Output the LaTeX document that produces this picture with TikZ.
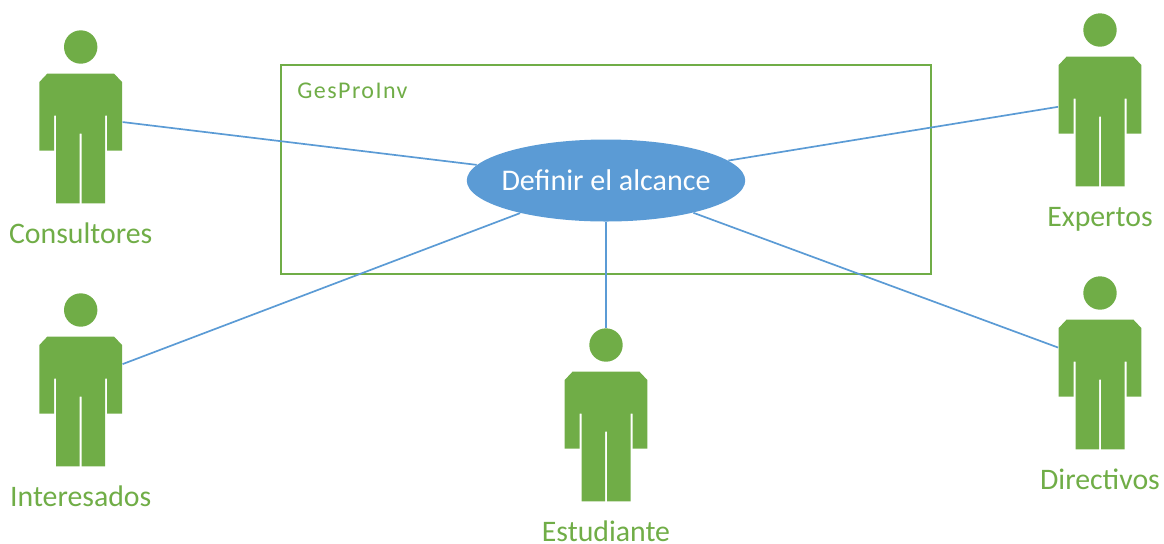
\documentclass[tikz,border=0pt]{standalone}
\usepackage{fontspec}
\setmainfont{Carlito}
\newfontfamily\espaciada[LetterSpace=6]{Carlito}
\usetikzlibrary{positioning}
\usetikzlibrary{shapes.geometric}
\definecolor{verde}{HTML}{70AD47}
\definecolor{azul}{HTML}{5B9BD5}
\tikzset{
	actor/.style={minimum width=41.5pt, minimum height=87pt, inner sep=0pt, path picture={
		\begin{scope}[shift={(path picture bounding box.center)}]
			\fill[verde] (0,-70) circle(8.35pt);
			\fill[verde] (-33.5,-43.3) -- (33.5,-43.3) -- (41.3,-35) -- (41.3,33.7) -- (26.5,33.7) -- (26.5,-1.3) -- (24.5,-1.3) -- (24.5,86.4) -- (1,86.4) -- (1,16.7) -- (-1,16.7) -- (-1,86.4) -- (-24.5,86.4) -- (-24.5,-1.3) -- (-26.5,-1.3) -- (-26.5,33.7) -- (-41.3,33.7) -- (-41.3,-35) -- cycle;
		\end{scope}}},
	nombre/.style={text=verde, font=\fontsize{14.9}{17}\selectfont, inner sep=0pt, text height=9pt, text depth=0.5pt},
	enlace/.style={azul, line width=0.85pt}
}
\begin{document}
\begin{tikzpicture}[x=0.5pt, y=-0.5pt]
	\useasboundingbox (0,0) rectangle (1164,543);
	% El sistema
		\node[draw=verde, line width=1pt, minimum width=325pt, minimum height=104.5pt, inner sep=0pt] (sistema) at (606,169.5) {};
		\node[text=verde, font=\espaciada\fontsize{12}{14}\selectfont, inner sep=0pt, anchor=west] (titulo) at (297,91) {GesProInv};
		\node[ellipse, fill=azul, text=white, font=\fontsize{15}{18}\selectfont, minimum width=139pt, minimum height=41pt, inner xsep=-3pt, inner ysep=0pt] (alcance) at (606,180.5) {Definir el alcance};

	% Los actores
		\node[actor] (consultores) at (80.7,117) {};
		\node[actor] (interesados) at (80.7,380) {};
		\node[actor] (estudiante) at (606,415) {};
		\node[actor] (expertos) at (1100,100) {};
		\node[actor] (directivos) at (1100,363) {};
		\node[nombre, below=10.5pt of consultores] (nconsultores) {Consultores};
		\node[nombre, below=10.5pt of interesados] (ninteresados) {Interesados};
		\node[nombre, below=10.5pt of estudiante] (nestudiante) {Estudiante};
		\node[nombre, below=10.5pt of expertos] (nexpertos) {Expertos};
		\node[nombre, below=10.5pt of directivos] (ndirectivos) {Directivos};

	% Los enlaces
		\draw[enlace] (consultores) -- (alcance);
		\draw[enlace] (interesados) -- (alcance);
		\draw[enlace] (estudiante) -- (alcance);
		\draw[enlace] (expertos) -- (alcance);
		\draw[enlace] (directivos) -- (alcance);
\end{tikzpicture}
\end{document}
